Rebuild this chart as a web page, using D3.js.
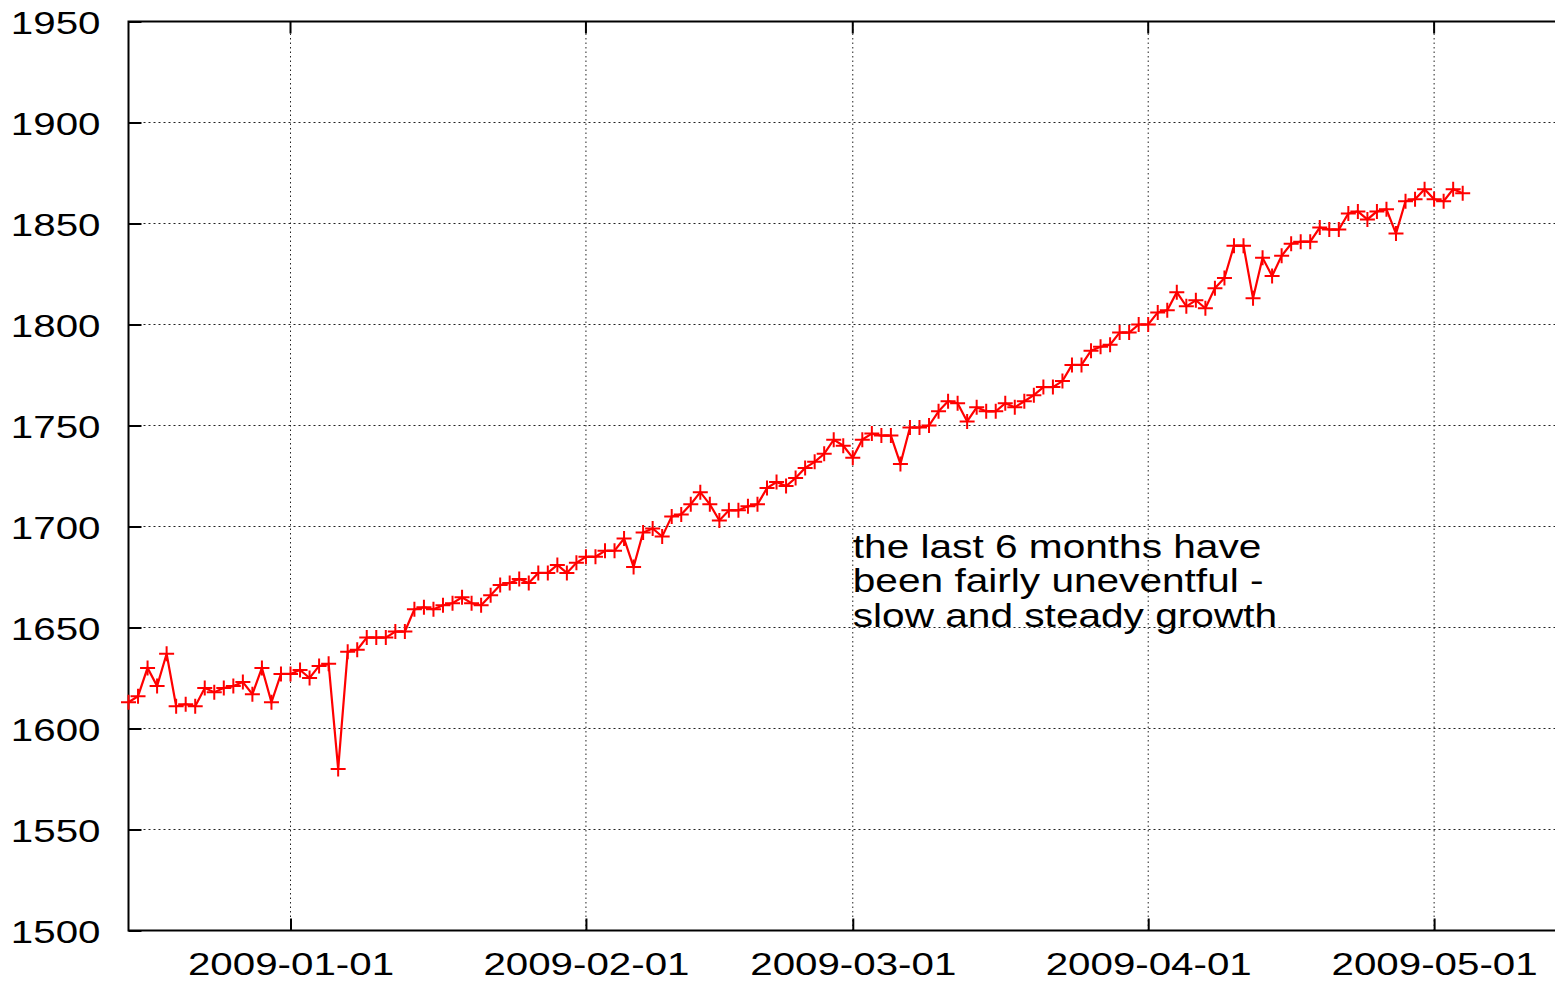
<!DOCTYPE html>
<html>
<head>
<meta charset="utf-8">
<script src="https://cdn.jsdelivr.net/npm/d3@7"></script>
<style>
  body { margin: 0; background: #fff; }
  svg { display: block; font-family: "Liberation Sans", Arial, sans-serif; }
</style>
</head>
<body>
<div class="chart"></div>
<script>
// daily values, first point is 2008-12-15
const firstDay = new Date(2008, 11, 15);
const values = [
  // Dec 15 - Dec 31
  1613, 1616, 1630, 1621, 1637, 1611, 1612, 1611, 1620, 1618, 1620, 1621, 1623, 1617, 1630, 1613, 1627,
  // Jan
  1627, 1629, 1625, 1631, 1632, 1580, 1638, 1639, 1645, 1645, 1645, 1648, 1648, 1659, 1660, 1659,
  1661, 1662, 1665, 1662, 1661, 1666, 1671, 1672, 1674, 1672, 1677, 1677, 1681, 1677, 1682,
  // Feb
  1685, 1685, 1688, 1688, 1694, 1680, 1697, 1699, 1695, 1705, 1706, 1711, 1717, 1711, 1703, 1708,
  1708, 1710, 1711, 1719, 1722, 1720, 1724, 1729, 1732, 1736, 1743, 1740,
  // Mar
  1734, 1743, 1746, 1745, 1745, 1731, 1749, 1749, 1750, 1757, 1762, 1761, 1752, 1759, 1757, 1757,
  1761, 1759, 1762, 1765, 1769, 1769, 1772, 1780, 1780, 1787, 1789, 1790, 1796, 1796, 1800,
  // Apr
  1800, 1806, 1807, 1816, 1809, 1812, 1808, 1818, 1823, 1839, 1839, 1813, 1833, 1824, 1834, 1840,
  1841, 1841, 1848, 1847, 1847, 1855, 1856, 1852, 1856, 1857, 1845, 1861, 1862, 1867,
  // May
  1862, 1861, 1867, 1865
];
const yTicks = [1500, 1550, 1600, 1650, 1700, 1750, 1800, 1850, 1900, 1950];
const xTicks = ["2009-01-01", "2009-02-01", "2009-03-01", "2009-04-01", "2009-05-01"];
const note = ["the last 6 months have", "been fairly uneventful -", "slow and steady growth"];

const data = values.map((v, i) => ({ date: d3.timeDay.offset(firstDay, i), value: v }));
const parse = d3.timeParse("%Y-%m-%d");

const W = 1555, H = 983;
const stretch = 1.26; // text in the picture is drawn a bit wide

const svg = d3.select(".chart").append("svg").attr("width", W).attr("height", H);
svg.append("rect").attr("width", W).attr("height", H).attr("fill", "#fff");

const x = d3.scaleTime()
  .domain([firstDay, new Date(2009, 4, 14)])
  .range([128.5, 1558]);
const y = d3.scaleLinear().domain([1500, 1950]).range([930.5, 21.5]);

// grid
svg.append("g").selectAll("line")
  .data(yTicks.slice(1))
  .join("line")
  .attr("x1", x.range()[0]).attr("x2", x.range()[1])
  .attr("y1", d => y(d)).attr("y2", d => y(d))
  .attr("stroke", "#222").attr("stroke-width", 1).attr("stroke-dasharray", "2,3");
svg.append("g").selectAll("line")
  .data(xTicks)
  .join("line")
  .attr("x1", d => x(parse(d))).attr("x2", d => x(parse(d)))
  .attr("y1", y(1500)).attr("y2", y(1950))
  .attr("stroke", "#222").attr("stroke-width", 1).attr("stroke-dasharray", "1.5,3");

// axes, ticks pointing inward
const yAxis = svg.append("g")
  .attr("transform", `translate(${x.range()[0]},0)`)
  .call(d3.axisLeft(y).tickValues(yTicks).tickSize(-13).tickPadding(0).tickFormat(d3.format("d")));
const xAxis = svg.append("g")
  .attr("transform", `translate(0,${y(1500)})`)
  .call(d3.axisBottom(x).tickValues(xTicks.map(parse)).tickSize(-12).tickPadding(0)
    .tickFormat(d3.timeFormat("%Y-%m-%d")));

[yAxis, xAxis].forEach(a => {
  a.select(".domain").remove();
  a.selectAll(".tick line").attr("stroke", "#000").attr("stroke-width", 2);
  a.selectAll(".tick text").attr("fill", "#000").attr("font-size", 32);
});
yAxis.selectAll(".tick text")
  .attr("text-anchor", "end")
  .attr("x", -28 / stretch).attr("dy", "0.36em")
  .attr("transform", `scale(${stretch},1)`);
xAxis.selectAll(".tick text")
  .attr("text-anchor", "middle")
  .attr("y", 45).attr("dy", 0)
  .attr("transform", `scale(${stretch},1)`);

// top ticks (mirror)
svg.append("g").selectAll("line")
  .data(xTicks)
  .join("line")
  .attr("x1", d => x(parse(d))).attr("x2", d => x(parse(d)))
  .attr("y1", y(1950)).attr("y2", y(1950) + 12)
  .attr("stroke", "#000").attr("stroke-width", 2);

// border
svg.append("rect")
  .attr("x", x.range()[0]).attr("y", y(1950))
  .attr("width", x.range()[1] - x.range()[0]).attr("height", y(1500) - y(1950))
  .attr("fill", "none").attr("stroke", "#000").attr("stroke-width", 2);

// series
const line = d3.line().x(d => x(d.date)).y(d => y(d.value));
svg.append("path")
  .datum(data)
  .attr("d", line)
  .attr("fill", "none").attr("stroke", "#f00").attr("stroke-width", 2.2)
  .attr("stroke-linejoin", "miter");
svg.append("g").selectAll("path")
  .data(data)
  .join("path")
  .attr("transform", d => `translate(${x(d.date)},${y(d.value)})`)
  .attr("d", "M-7.5,0H7.5M0,-7.5V7.5")
  .attr("stroke", "#f00").attr("stroke-width", 2);

// annotation
const noteX = x(new Date(2009, 2, 1));
svg.append("g")
  .attr("transform", `translate(${noteX},558) scale(1.25,1)`)
  .selectAll("text")
  .data(note)
  .join("text")
  .attr("x", 0).attr("y", (d, i) => i * 34.5)
  .attr("font-size", 32.5).attr("fill", "#000")
  .text(d => d);
</script>
</body>
</html>
